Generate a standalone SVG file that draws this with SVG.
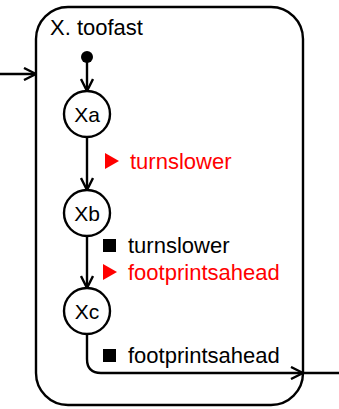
<svg xmlns="http://www.w3.org/2000/svg" width="339" height="409" viewBox="0 0 339 409">
<style>
.ln{fill:none;stroke:#000;stroke-width:2.4}
.st{fill:#fff;stroke:#000;stroke-width:2.4}
.t{font-family:"Liberation Sans",Arial,sans-serif;font-size:22px;fill:#000}
.n{font-family:"Liberation Sans",Arial,sans-serif;font-size:21px;fill:#000}
.r{fill:#ff0000}
</style>
<defs>
<marker id="ah" viewBox="0 0 14 14" refX="13" refY="7" markerWidth="14" markerHeight="14" markerUnits="userSpaceOnUse" orient="auto">
<path d="M1,1 L13,7 L1,13" fill="none" stroke="#000" stroke-width="2.4"/>
</marker>
</defs>
<g id="state-toofast">
<rect x="36" y="7" width="267" height="398" rx="32" ry="32" class="ln"/>
<text x="50" y="35" class="t">X. toofast</text>
</g>
<g id="initial"><circle cx="87" cy="57" r="6" fill="#000"/></g>
<g id="Xa"><circle cx="87" cy="114" r="23" class="st"/><text x="87" y="121.5" class="n" text-anchor="middle">Xa</text></g>
<g id="Xb"><circle cx="87" cy="213" r="23" class="st"/><text x="87" y="220.5" class="n" text-anchor="middle">Xb</text></g>
<g id="Xc"><circle cx="87" cy="311" r="23" class="st"/><text x="87" y="318.5" class="n" text-anchor="middle">Xc</text></g>
<g id="connectors">
<path d="M0,74 L36,74" class="ln" marker-end="url(#ah)"/>
<path d="M87,62 L87,91" class="ln" marker-end="url(#ah)"/>
<path d="M87,137 L87,190" class="ln" marker-end="url(#ah)"/>
<path d="M87,236 L87,288" class="ln" marker-end="url(#ah)"/>
<path d="M87,334 L87,359 Q87,373 101,373 L303,373" class="ln" marker-end="url(#ah)"/>
<path d="M303,373 L339,373" class="ln"/>
</g>
<g id="labels">
<path d="M105,153 L119,161 L105,169 Z" class="r"/>
<text x="130" y="169" class="t r">turnslower</text>
<rect x="103" y="239" width="13" height="13" fill="#000"/>
<text x="128" y="253" class="t">turnslower</text>
<path d="M103,264 L117,272 L103,280 Z" class="r"/>
<text x="128" y="280" class="t r">footprintsahead</text>
<rect x="103" y="349" width="13" height="13" fill="#000"/>
<text x="128" y="363" class="t">footprintsahead</text>
</g>
</svg>
